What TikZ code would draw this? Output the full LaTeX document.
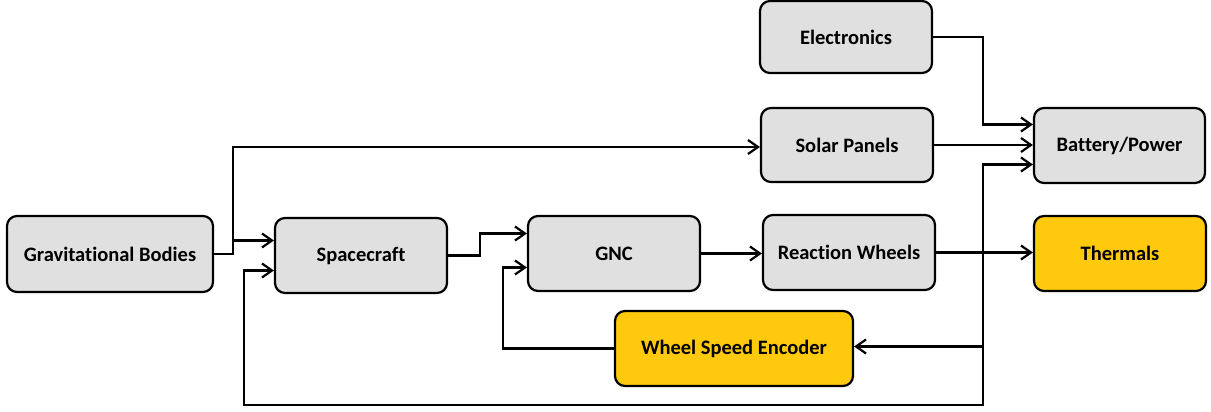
\documentclass[tikz,border=0pt]{standalone}
\usepackage{fontspec}
\setmainfont{Carlito}[Ligatures={NoCommon,NoRare,NoDiscretionary}]
\usetikzlibrary{arrows.meta}
\definecolor{boxgray}{HTML}{E0E0E0}
\definecolor{boxyellow}{HTML}{FFC90E}
\begin{document}
\begin{tikzpicture}[x=1pt,y=-1pt,
  blk/.style={draw=black, line width=2.2pt, rounded corners=10pt, fill=boxgray,
    minimum width=172pt, minimum height=75pt, inner sep=0pt,
    font=\bfseries\fontsize{20.5}{24}\selectfont},
  hot/.style={blk, fill=boxyellow},
  wire/.style={line width=2.2pt, line join=miter,
    -{Straight Barb[length=10pt,width=14pt,line width=2.2pt]}},
]
\useasboundingbox (0,0) rectangle (1211,412);
\node[blk, minimum width=206pt, minimum height=76pt] (grav) at (110,254) {Gravitational Bodies};
\node[blk] (sc) at (361,255.5) {Spacecraft};
\node[blk] (gnc) at (614,253.5) {GNC};
\node[blk] (rw) at (849,252.5) {Reaction Wheels};
\node[hot] (th) at (1120,253.5) {Thermals};
\node[blk, minimum width=171pt] (bat) at (1119.5,145.5) {Battery/Power};
\node[blk, minimum height=72pt] (el) at (846,37) {Electronics};
\node[blk, minimum height=74pt] (sol) at (847,145) {Solar Panels};
\node[hot, minimum width=238pt] (wse) at (734,348.5) {Wheel Speed Encoder};

\coordinate (g1) at (233,254);
\coordinate (s1) at (480,255.5);
\coordinate (e1) at (983,37);
\coordinate (fb) at (983,346.5);
\coordinate (fbb) at (983,405);
\coordinate (fbl) at (244,405);
\coordinate (w1) at (503,348.5);

\draw[wire] (grav.east) -- (g1) |- ([yshift=15pt]sc.west);
\draw[wire] (g1) |- ([yshift=-2pt]sol.west);
\draw[wire] (sc.east) -- (s1) |- ([yshift=20pt]gnc.west);
\draw[wire] (gnc.east) -- (gnc.east -| rw.west);
\draw[wire] (rw.east) -- (rw.east -| th.west);
\draw[wire] (el.east) -- (e1) |- ([yshift=21pt]bat.west);
\draw[wire] (sol.east) -- (sol.east -| bat.west);
\draw[wire] (fb) |- ([yshift=-19pt]bat.west);
\draw[wire] (fb) -- (fb -| wse.east);
\draw[wire] (fb) -- (fbb) -- (fbl) |- ([yshift=-15pt]sc.west);
\draw[wire] (wse.west) -- (w1) |- ([yshift=-14pt]gnc.west);
\end{tikzpicture}
\end{document}
